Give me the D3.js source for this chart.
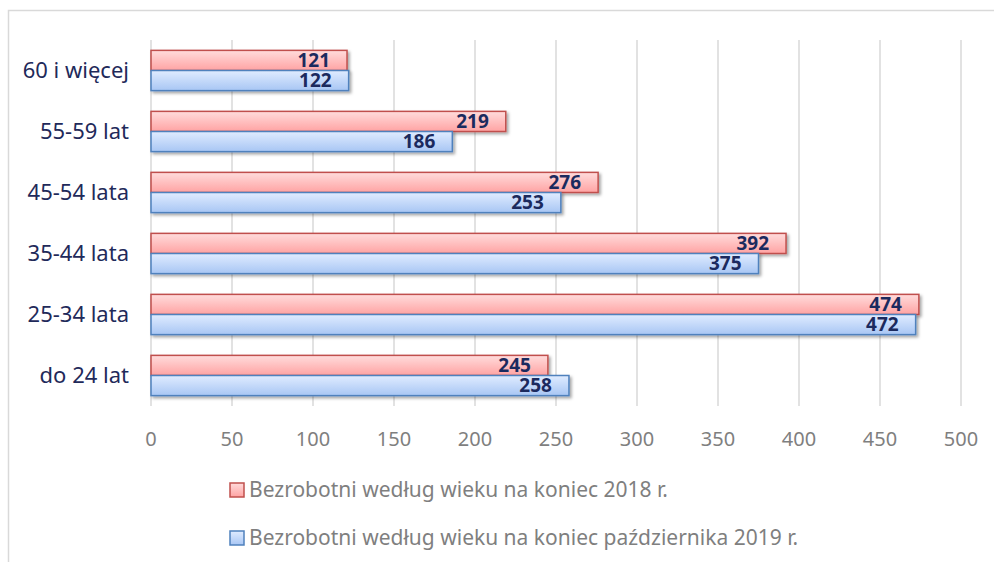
<!DOCTYPE html>
<html>
<head>
<meta charset="utf-8">
<script src="https://cdn.jsdelivr.net/npm/d3@7"></script>
<style>
  body { margin: 0; background: #fff; }
  svg { display: block; font-family: "Noto Sans", sans-serif; }
</style>
</head>
<body>
<script>
// categories top to bottom, as on the picture
var categories = ["60 i więcej", "55-59 lat", "45-54 lata", "35-44 lata", "25-34 lata", "do 24 lat"];
var values2018 = [121, 219, 276, 392, 474, 245];
var values2019 = [122, 186, 253, 375, 472, 258];
var ticks = [0, 50, 100, 150, 200, 250, 300, 350, 400, 450, 500];
var seriesNames = ["Bezrobotni według wieku na koniec 2018 r.",
                   "Bezrobotni według wieku na koniec października 2019 r."];

var width = 994, height = 562;

var svg = d3.select("body").append("svg")
    .attr("width", width)
    .attr("height", height);

var defs = svg.append("defs");

function grad(id, c1, c2) {
    var g = defs.append("linearGradient").attr("id", id)
        .attr("x1", 0).attr("y1", 0).attr("x2", 0).attr("y2", 1);
    g.append("stop").attr("offset", "0%").attr("stop-color", c1);
    g.append("stop").attr("offset", "100%").attr("stop-color", c2);
}
grad("gRed", "#ffdcdc", "#ffa3a3");
grad("gBlue", "#e0ecff", "#a8c6f4");

defs.append("filter").attr("id", "shadow")
    .attr("x", "-5%").attr("y", "-30%").attr("width", "110%").attr("height", "170%")
    .append("feDropShadow")
    .attr("dx", 2).attr("dy", 2).attr("stdDeviation", 1.5)
    .attr("flood-color", "#000").attr("flood-opacity", 0.35);

// frame
svg.append("path")
    .attr("d", "M8.5,562 V10.5 H994")
    .attr("fill", "none")
    .attr("stroke", "#d9d9d9")
    .attr("stroke-width", 1.5);

var x = d3.scaleLinear().domain([0, 500]).range([151, 961]);
var y = d3.scaleBand().domain(categories).range([40, 406]).paddingInner(0.34).paddingOuter(0.17);

// gridlines
svg.append("g")
    .selectAll("line")
    .data(ticks)
    .join("line")
    .attr("x1", d => x(d)).attr("x2", d => x(d))
    .attr("y1", 40).attr("y2", 406)
    .attr("stroke", "#d9d9d9")
    .attr("stroke-width", 1.5);

// tick labels
svg.append("g")
    .selectAll("text")
    .data(ticks)
    .join("text")
    .attr("x", d => x(d))
    .attr("y", 446)
    .attr("text-anchor", "middle")
    .attr("fill", "#7f7f7f")
    .attr("font-size", 20)
    .text(d => d);

// category labels
svg.append("g")
    .selectAll("text")
    .data(categories)
    .join("text")
    .attr("x", 129)
    .attr("y", d => y(d) + y.bandwidth() / 2)
    .attr("dy", "0.35em")
    .attr("text-anchor", "end")
    .attr("fill", "#1f2a5a")
    .attr("font-size", 22)
    .text(d => d);

var series = [
    { name: seriesNames[0], values: values2018, fill: "url(#gRed)", stroke: "#c0504d", off: 0 },
    { name: seriesNames[1], values: values2019, fill: "url(#gBlue)", stroke: "#4f81bd", off: 1 }
];

var barH = y.bandwidth() / 2;

series.forEach(function (s) {
    var g = svg.append("g");
    g.selectAll("rect")
        .data(categories)
        .join("rect")
        .attr("x", x(0))
        .attr("y", d => y(d) + s.off * barH)
        .attr("width", (d, i) => x(s.values[i]) - x(0))
        .attr("height", barH)
        .attr("fill", s.fill)
        .attr("stroke", s.stroke)
        .attr("stroke-width", 1.5)
        .attr("filter", "url(#shadow)");
});

series.forEach(function (s) {
    svg.append("g")
        .selectAll("text")
        .data(categories)
        .join("text")
        .attr("x", (d, i) => x(s.values[i]) - 17)
        .attr("y", d => y(d) + s.off * barH + barH / 2)
        .attr("dy", "0.36em")
        .attr("text-anchor", "end")
        .attr("fill", "#1b2a5e")
        .attr("font-weight", "bold")
        .attr("font-size", 19)
        .text((d, i) => s.values[i]);
});

// legend
var legend = svg.append("g")
    .selectAll("g")
    .data(series)
    .join("g")
    .attr("transform", (d, i) => `translate(230,${483 + i * 48})`);

legend.append("rect")
    .attr("width", 14).attr("height", 14)
    .attr("fill", d => d.fill)
    .attr("stroke", d => d.stroke)
    .attr("stroke-width", 1.5);

legend.append("text")
    .attr("x", 19)
    .attr("y", 7)
    .attr("dy", "0.35em")
    .attr("fill", "#7f7f7f")
    .attr("font-size", 21)
    .text(d => d.name);
</script>
</body>
</html>
